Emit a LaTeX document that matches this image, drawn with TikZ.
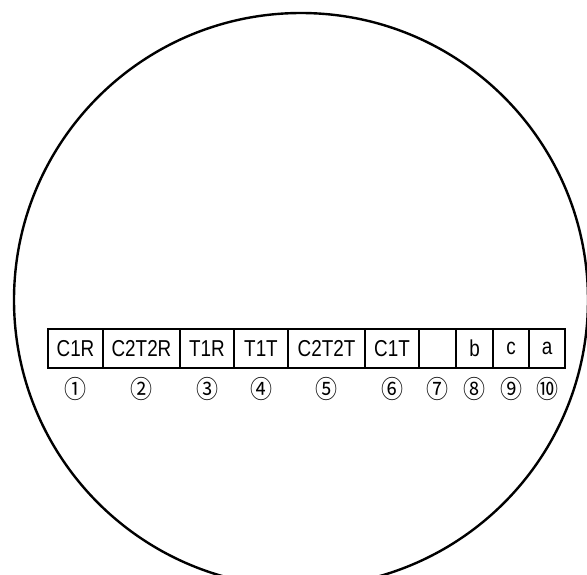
\documentclass[tikz,border=0pt]{standalone}
\usepackage{fontspec}
\setmainfont{Liberation Sans}
\newfontfamily\cellfont[FakeStretch=0.82]{Liberation Sans}
\newfontfamily\circfont[FakeStretch=0.88]{Noto Sans CJK KR}
\tikzset{
  cell/.style={draw=black, line width=2pt, rectangle, inner sep=0pt,
    minimum height=39pt, font=\cellfont\fontsize{23}{26}\selectfont},
  num/.style={inner sep=0pt, font=\circfont\fontsize{25}{28}\selectfont},
  rim/.style={draw=black, line width=2.4pt}
}
\begin{document}
\begin{tikzpicture}[x=1pt,y=-1pt]
\useasboundingbox (0,0) rectangle (587,574);
\clip (0,0) rectangle (587,574);
\fill[white] (0,0) rectangle (587,574);
\draw[rim] (301,300) circle [radius=287];
% cells: edges 48,103,180,234,288,365,419,456,493,529,565
\node[cell, minimum width=55pt] (c1) at (75.5,348.5) {C1R};
\node[cell, minimum width=77pt] (c2) at (141.5,348.5) {C2T2R};
\node[cell, minimum width=54pt] (c3) at (207,348.5) {T1R};
\node[cell, minimum width=54pt] (c4) at (261,348.5) {T1T};
\node[cell, minimum width=77pt] (c5) at (326.5,348.5) {C2T2T};
\node[cell, minimum width=54pt] (c6) at (392,348.5) {C1T};
\node[cell, minimum width=37pt] (c7) at (437.5,348.5) {};
\node[cell, minimum width=37pt] (c8) at (474.5,348.5) {b};
\node[cell, minimum width=36pt] (c9) at (511,348.5) {c};
\node[cell, minimum width=36pt] (c10) at (547,348.5) {a};
\node[num] (n1) at (75.5,389) {①};
\node[num] (n2) at (141.5,389) {②};
\node[num] (n3) at (207,389) {③};
\node[num] (n4) at (261,389) {④};
\node[num] (n5) at (326.5,389) {⑤};
\node[num] (n6) at (392,389) {⑥};
\node[num] (n7) at (437.5,389) {⑦};
\node[num] (n8) at (474.5,389) {⑧};
\node[num] (n9) at (511,389) {⑨};
\node[num] (n10) at (547,389) {⑩};
\end{tikzpicture}
\end{document}
